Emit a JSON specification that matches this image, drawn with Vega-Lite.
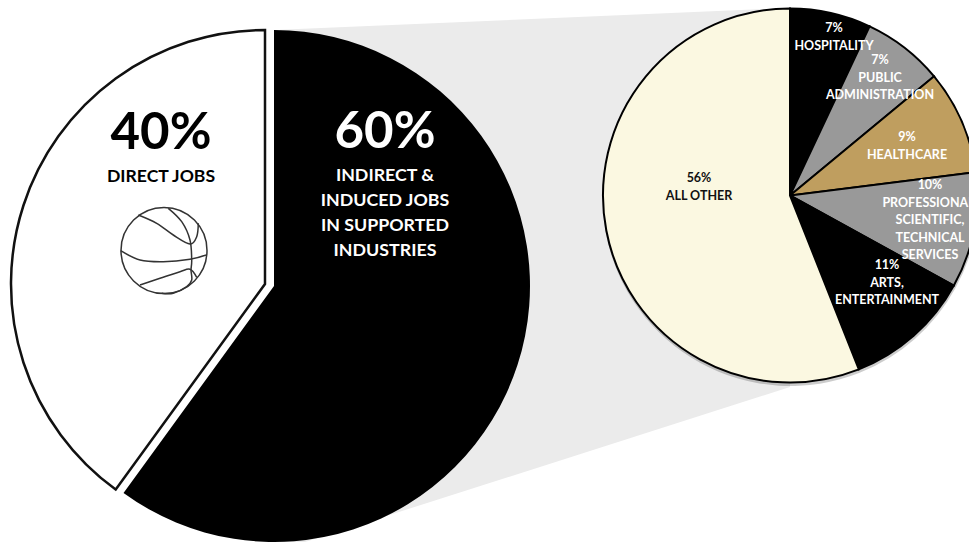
{
  "$schema": "https://vega.github.io/schema/vega-lite/v6.json",
  "width": 969,
  "height": 542,
  "padding": 0,
  "autosize": {"type": "none"},
  "background": "white",
  "view": {"stroke": null},
  "config": {"text": {"font": "Lato", "fontWeight": "bold", "lineBreak": "\n"}},
  "datasets": {
    "jobs": [
      {"slice": "Indirect and induced jobs", "share": 60, "big": "60%", "caption": "INDIRECT &\nINDUCED JOBS\nIN SUPPORTED\nINDUSTRIES"},
      {"slice": "Direct jobs", "share": 40, "big": "40%", "caption": "DIRECT JOBS"}
    ],
    "industries": [
      {"slice": "Hospitality", "share": 7, "label": "7%\nHOSPITALITY"},
      {"slice": "Public administration", "share": 7, "label": "7%\nPUBLIC\nADMINISTRATION"},
      {"slice": "Healthcare", "share": 9, "label": "9%\nHEALTHCARE"},
      {"slice": "Professional", "share": 10, "label": "10%\nPROFESSIONAL,\nSCIENTIFIC,\nTECHNICAL\nSERVICES"},
      {"slice": "Arts", "share": 11, "label": "11%\nARTS,\nENTERTAINMENT"},
      {"slice": "All other", "share": 56, "label": "56%\nALL OTHER"}
    ],
    "band": [
      {"px": 280, "top": 29.7, "bottom": 550},
      {"px": 790, "top": 8, "bottom": 387}
    ],
    "seams": [
      {"seam": "a", "seq": 1, "px": 120.7, "py": 250.7},
      {"seam": "a", "seq": 2, "px": 140, "py": 260},
      {"seam": "a", "seq": 3, "px": 163.3, "py": 261.7},
      {"seam": "a", "seq": 4, "px": 190, "py": 259.3},
      {"seam": "a", "seq": 5, "px": 206, "py": 255},
      {"seam": "b", "seq": 1, "px": 138.3, "py": 215},
      {"seam": "b", "seq": 2, "px": 156.7, "py": 223.3},
      {"seam": "b", "seq": 3, "px": 173.3, "py": 235},
      {"seam": "b", "seq": 4, "px": 190, "py": 244},
      {"seam": "b", "seq": 5, "px": 196.7, "py": 236.7},
      {"seam": "b", "seq": 6, "px": 198.3, "py": 223.3},
      {"seam": "c", "seq": 1, "px": 168.3, "py": 208.3},
      {"seam": "c", "seq": 2, "px": 181.7, "py": 221.7},
      {"seam": "c", "seq": 3, "px": 190, "py": 240},
      {"seam": "c", "seq": 4, "px": 191.7, "py": 260},
      {"seam": "c", "seq": 5, "px": 191, "py": 270},
      {"seam": "c", "seq": 6, "px": 191.7, "py": 280},
      {"seam": "c", "seq": 7, "px": 186.7, "py": 286.7},
      {"seam": "c", "seq": 8, "px": 173.3, "py": 293.3},
      {"seam": "c", "seq": 9, "px": 161.7, "py": 293.3},
      {"seam": "d", "seq": 1, "px": 140, "py": 285},
      {"seam": "d", "seq": 2, "px": 160, "py": 278.3},
      {"seam": "d", "seq": 3, "px": 180, "py": 271.7},
      {"seam": "d", "seq": 4, "px": 190, "py": 269.3},
      {"seam": "d", "seq": 5, "px": 196.7, "py": 277.3}
    ]
  },
  "encoding": {
    "x": {"type": "quantitative", "scale": {"domain": [0, 969], "nice": false, "zero": false}, "axis": null},
    "y": {"type": "quantitative", "scale": {"domain": [0, 542], "reverse": true, "nice": false, "zero": false}, "axis": null}
  },
  "layer": [
    {
      "description": "Grey band leading from the main pie to the breakdown pie",
      "data": {"name": "band"},
      "mark": {"type": "area", "color": "#ebebeb"},
      "encoding": {
        "x": {"field": "px", "type": "quantitative"},
        "y": {"field": "top", "type": "quantitative"},
        "y2": {"field": "bottom"}
      }
    },
    {
      "description": "Indirect and induced jobs slice",
      "data": {"name": "jobs"},
      "transform": [
        {"stack": "share", "groupby": [], "as": ["a0", "a1"]},
        {"filter": "datum.slice === 'Indirect and induced jobs'"}
      ],
      "mark": {"type": "arc", "outerRadius": 256, "color": "#000000"},
      "encoding": {
        "x": {"datum": 274},
        "y": {"datum": 286},
        "theta": {"field": "a0", "type": "quantitative", "scale": {"domain": [0, 100], "range": [0, 6.28319]}},
        "theta2": {"field": "a1"}
      }
    },
    {
      "description": "Direct jobs slice, pulled out to the left",
      "data": {"name": "jobs"},
      "transform": [
        {"stack": "share", "groupby": [], "as": ["a0", "a1"]},
        {"filter": "datum.slice === 'Direct jobs'"}
      ],
      "mark": {"type": "arc", "outerRadius": 254, "fill": "#ffffff", "stroke": "#111111", "strokeWidth": 2.5},
      "encoding": {
        "x": {"datum": 265},
        "y": {"datum": 284},
        "theta": {"field": "a0", "type": "quantitative", "scale": {"domain": [0, 100], "range": [0, 6.28319]}},
        "theta2": {"field": "a1"}
      }
    },
    {
      "description": "Soft drop shadow under the breakdown pie",
      "data": {"name": "industries"},
      "transform": [{"stack": "share", "groupby": [], "as": ["a0", "a1"]}],
      "mark": {"type": "arc", "outerRadius": 188, "color": "#000000", "opacity": 0.2},
      "encoding": {
        "x": {"datum": 790.5},
        "y": {"datum": 198},
        "theta": {"field": "a0", "type": "quantitative", "scale": {"domain": [0, 100], "range": [0, 6.28319]}},
        "theta2": {"field": "a1"}
      }
    },
    {
      "description": "Breakdown of the indirect and induced jobs by industry",
      "data": {"name": "industries"},
      "transform": [{"stack": "share", "groupby": [], "as": ["a0", "a1"]}],
      "mark": {"type": "arc", "outerRadius": 187, "stroke": "#000000", "strokeWidth": 2},
      "encoding": {
        "x": {"datum": 790},
        "y": {"datum": 195.5},
        "theta": {"field": "a0", "type": "quantitative", "scale": {"domain": [0, 100], "range": [0, 6.28319]}},
        "theta2": {"field": "a1"},
        "fill": {
          "field": "slice",
          "type": "nominal",
          "legend": null,
          "scale": {
            "domain": ["Hospitality", "Public administration", "Healthcare", "Professional", "Arts", "All other"],
            "range": ["#000000", "#999999", "#bf9e5f", "#999999", "#000000", "#fbf8e1"]
          }
        }
      }
    },
    {
      "description": "Basketball outline",
      "data": {"values": [{"ball": "outline"}]},
      "mark": {"type": "point", "shape": "circle", "filled": false, "size": 7396, "stroke": "#333333", "strokeWidth": 1.5, "opacity": 1},
      "encoding": {"x": {"datum": 164}, "y": {"datum": 250.5}}
    },
    {
      "description": "Basketball seams, each traced along its seq field",
      "data": {"name": "seams"},
      "mark": {"type": "line", "interpolate": "cardinal", "stroke": "#333333", "strokeWidth": 1.5},
      "encoding": {
        "x": {"field": "px", "type": "quantitative"},
        "y": {"field": "py", "type": "quantitative"},
        "detail": {"field": "seam", "type": "nominal"},
        "order": {"field": "seq", "type": "quantitative"}
      }
    },
    {
      "data": {"name": "jobs"},
      "transform": [{"filter": "datum.slice === 'Direct jobs'"}],
      "mark": {"type": "text", "fontSize": 51, "color": "#000000"},
      "encoding": {"x": {"datum": 161}, "y": {"datum": 134}, "text": {"field": "big"}}
    },
    {
      "data": {"name": "jobs"},
      "transform": [{"filter": "datum.slice === 'Direct jobs'"}],
      "mark": {"type": "text", "fontSize": 17.6, "color": "#000000"},
      "encoding": {"x": {"datum": 161}, "y": {"datum": 177}, "text": {"field": "caption"}}
    },
    {
      "data": {"name": "jobs"},
      "transform": [{"filter": "datum.slice === 'Indirect and induced jobs'"}],
      "mark": {"type": "text", "fontSize": 51, "color": "#ffffff"},
      "encoding": {"x": {"datum": 385}, "y": {"datum": 133}, "text": {"field": "big"}}
    },
    {
      "data": {"name": "jobs"},
      "transform": [{"filter": "datum.slice === 'Indirect and induced jobs'"}],
      "mark": {"type": "text", "fontSize": 17.8, "lineHeight": 25, "color": "#ffffff"},
      "encoding": {"x": {"datum": 385}, "y": {"datum": 176}, "text": {"field": "caption"}}
    },
    {
      "data": {"name": "industries"},
      "transform": [{"filter": "datum.slice === 'Hospitality'"}],
      "mark": {"type": "text", "fontSize": 12.5, "lineHeight": 17.5, "color": "#ffffff"},
      "encoding": {"x": {"datum": 834}, "y": {"datum": 28}, "text": {"field": "label"}}
    },
    {
      "data": {"name": "industries"},
      "transform": [{"filter": "datum.slice === 'Public administration'"}],
      "mark": {"type": "text", "fontSize": 12.5, "lineHeight": 17.5, "color": "#ffffff"},
      "encoding": {"x": {"datum": 880}, "y": {"datum": 60}, "text": {"field": "label"}}
    },
    {
      "data": {"name": "industries"},
      "transform": [{"filter": "datum.slice === 'Healthcare'"}],
      "mark": {"type": "text", "fontSize": 12.5, "lineHeight": 17.5, "color": "#ffffff"},
      "encoding": {"x": {"datum": 907}, "y": {"datum": 137}, "text": {"field": "label"}}
    },
    {
      "data": {"name": "industries"},
      "transform": [{"filter": "datum.slice === 'Professional'"}],
      "mark": {"type": "text", "fontSize": 12.5, "lineHeight": 17.5, "color": "#ffffff"},
      "encoding": {"x": {"datum": 930}, "y": {"datum": 185}, "text": {"field": "label"}}
    },
    {
      "data": {"name": "industries"},
      "transform": [{"filter": "datum.slice === 'Arts'"}],
      "mark": {"type": "text", "fontSize": 12.5, "lineHeight": 17.5, "color": "#ffffff"},
      "encoding": {"x": {"datum": 887}, "y": {"datum": 265}, "text": {"field": "label"}}
    },
    {
      "data": {"name": "industries"},
      "transform": [{"filter": "datum.slice === 'All other'"}],
      "mark": {"type": "text", "fontSize": 12.5, "lineHeight": 17.5, "color": "#111111"},
      "encoding": {"x": {"datum": 699}, "y": {"datum": 178}, "text": {"field": "label"}}
    }
  ]
}
